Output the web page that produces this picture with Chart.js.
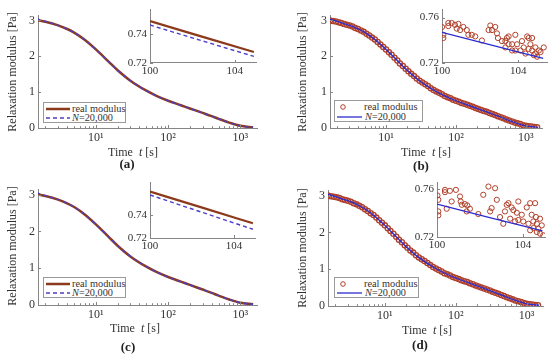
<!DOCTYPE html>
<html><head><meta charset="utf-8">
<script src="https://cdn.jsdelivr.net/npm/chart.js@4.4.1/dist/chart.umd.min.js"></script>
<style>
html,body{margin:0;padding:0;background:#fff;width:550px;height:360px;overflow:hidden;font-family:"Liberation Serif",serif;color:#333}
canvas{position:absolute;left:0;top:0;pointer-events:none}
.t{position:absolute;white-space:nowrap;font-size:12px;color:#333;transform:translate(-50%,-50%);line-height:1}
.yt{transform:translate(-50%,-50%) rotate(-90deg)}
.cap{font-weight:bold;font-size:13px;color:#222}
.leg{position:absolute;background:#fff;border:1px solid #9a9a9a;box-sizing:border-box;font-size:10.3px;color:#333}
.row{position:absolute;left:0;height:10px;line-height:10px;white-space:nowrap}
.row svg{position:absolute;top:0;left:0}
.row span{position:absolute;top:0}
</style>
</head><body>
<canvas id="mA" width="550" height="360"></canvas>
<canvas id="iA" width="550" height="360"></canvas>
<canvas id="mB" width="550" height="360"></canvas>
<canvas id="iB" width="550" height="360"></canvas>
<canvas id="mC" width="550" height="360"></canvas>
<canvas id="iC" width="550" height="360"></canvas>
<canvas id="mD" width="550" height="360"></canvas>
<canvas id="iD" width="550" height="360"></canvas>
<div id="txt"></div>
<script>
// ---------------- data ----------------
const tCurve = [1.5,2,3,4,5,7,10,15,20,30,50,70,100,150,200,300,400,500,700,1000,1500];
const gReal  = [3.01,2.96,2.86,2.76,2.66,2.46,2.19,1.85,1.61,1.32,1.04,0.89,0.76,0.635,0.545,0.42,0.33,0.255,0.15,0.06,0.02];
const gModel = [3.05,2.97,2.86,2.76,2.66,2.46,2.19,1.85,1.61,1.32,1.04,0.89,0.76,0.635,0.545,0.42,0.33,0.255,0.15,0.06,0.02];

const tScatter = [1.58,1.74,1.91,2.09,2.29,2.51,2.75,3.02,3.31,3.63,3.98,4.37,4.79,5.25,5.75,6.31,6.92,7.59,8.32,9.12,
  10.0,11.0,12.0,13.2,14.5,15.8,17.4,19.1,20.9,22.9,25.1,27.5,30.2,33.1,36.3,39.8,43.7,47.9,52.5,57.5,
  63.1,69.2,75.9,83.2,91.2,100,110,120,132,145,158,174,191,209,229,251,275,302,331,363,
  398,437,479,525,575,631,692,759,832,912,1000,1096,1202,1318,1445];
const gScatter = [3.00,2.98,2.97,2.95,2.93,2.90,2.88,2.86,2.83,2.79,2.76,2.72,2.68,2.63,2.58,2.52,2.47,2.40,2.33,2.26,
  2.19,2.11,2.04,1.96,1.88,1.80,1.73,1.65,1.58,1.51,1.45,1.38,1.32,1.27,1.22,1.17,1.11,1.06,1.02,0.98,
  0.94,0.89,0.86,0.83,0.79,0.76,0.73,0.70,0.675,0.65,0.62,0.59,0.56,0.53,0.50,0.475,0.45,0.42,0.39,0.36,
  0.33,0.30,0.27,0.24,0.21,0.18,0.15,0.13,0.11,0.08,0.06,0.05,0.04,0.03,0.02];

const tInsetLine   = [100, 102.45, 104.9];
const gInsRealA    = [0.7490, 0.7383, 0.7276];
const gInsModelA   = [0.7463, 0.7354, 0.7246];
const gInsRealC    = [0.7603, 0.7466, 0.7328];
const gInsModelC   = [0.7574, 0.7425, 0.7276];
const tInsetLineB  = [100, 102.65, 105.3];
const gInsModelB   = [0.7470, 0.7355, 0.7240];
const gInsModelD   = [0.7475, 0.7363, 0.7252];

const tInsB = [100.0,100.07,100.07,100.33,100.51,100.68,100.86,100.95,101.12,101.3,101.38,101.56,101.74,102.09,102.53,102.62,102.79,102.88,102.93,103.14,
  103.32,103.4,103.49,103.67,103.67,103.84,103.93,104.11,104.19,104.28,104.37,104.54,104.63,104.72,104.81,104.89,104.98,105.16,105.33,104.72,
  104.46,103.49,102.44,100.77,100.33,104.54,105.07,103.84,103.32,104.89];
const gInsB = [0.7517,0.7448,0.7420,0.7552,0.7552,0.7536,0.7544,0.7490,0.7517,0.7490,0.7448,0.7448,0.7434,0.7398,0.7530,0.7490,0.7517,0.7461,0.7420,0.7393,
  0.7337,0.7420,0.7434,0.7365,0.7310,0.7448,0.7365,0.7310,0.7393,0.7337,0.7283,0.7420,0.7365,0.7310,0.7269,0.7337,0.7255,0.7296,0.7337,0.7420,
  0.7434,0.7365,0.7490,0.7503,0.7525,0.7324,0.7310,0.7310,0.7393,0.7283];

const tInsD = [100.02,100.06,100.06,100.06,100.37,100.37,100.45,100.6,100.68,100.88,101.07,101.1,101.15,101.3,101.38,101.41,101.53,101.92,102.15,102.39,
  102.47,102.54,102.7,102.78,102.93,103.08,103.16,103.24,103.32,103.4,103.47,103.55,103.63,103.71,103.78,103.78,103.94,104.01,104.17,104.25,
  104.33,104.4,104.48,104.48,104.56,104.6,104.64,104.64,104.71,104.79,104.87,104.94,104.79,104.33];
const gInsD = [0.7547,0.7511,0.7414,0.7381,0.7594,0.7575,0.7436,0.7586,0.7497,0.7594,0.7539,0.7497,0.7469,0.7475,0.7414,0.7464,0.7436,0.7392,0.7553,0.7622,
  0.7414,0.7442,0.7608,0.7511,0.7367,0.7311,0.7414,0.7469,0.7483,0.7353,0.7447,0.7425,0.7331,0.7403,0.7497,0.7342,0.7386,0.7330,0.7447,0.7311,
  0.7483,0.7386,0.7330,0.7275,0.7483,0.7367,0.7311,0.7242,0.7269,0.7353,0.7297,0.7214,0.7228,0.7256];

const xTicksMain = [10, 100, 1000];
const xTickText  = {10:'10\u00B9', 100:'10\u00B2', 1000:'10\u00B3'};
const yTicksMain = [0, 1, 2, 3];
const xTicksInset = [100, 104];
const yTicksInsetAC = [0.72, 0.74];
const yTicksInsetBD = [0.72, 0.76];

// ---------------- styles ----------------
const REAL = '#8d3a1c', MODEL = '#4d3ec6', BLUE = '#2c2cd0', CIRC = '#b0402a';
const AXIS = '#858585', TXT = '#333333';
const FONT = '"Liberation Serif", serif';

const pts = (xs, ys) => xs.map((x, i) => ({x, y: ys[i]}));

const inTicks = {
  id: 'inTicks',
  afterDraw(chart) {
    const o = chart.options.plugins.inTicks;
    if (!o) return;
    const {ctx, chartArea: a, scales: {x, y}} = chart;
    ctx.save(); ctx.strokeStyle = AXIS; ctx.lineWidth = 1; ctx.beginPath();
    x.ticks.forEach(t => { const p = Math.round(x.getPixelForValue(t.value)) + 0.5; ctx.moveTo(p, a.bottom); ctx.lineTo(p, a.bottom - 3); });
    y.ticks.forEach(t => { const p = Math.round(y.getPixelForValue(t.value)) + 0.5; ctx.moveTo(a.left, p); ctx.lineTo(a.left + 3, p); });
    if (o.logMinor) {
      for (let d = 1; d <= 1000; d *= 10) for (let m = 2; m <= 9; m++) {
        const v = m * d; if (v < x.min || v > x.max) continue;
        const p = Math.round(x.getPixelForValue(v)) + 0.5; ctx.moveTo(p, a.bottom); ctx.lineTo(p, a.bottom - 1.8);
      }
    }
    ctx.stroke(); ctx.restore();
  }
};

function makeChart(id, area, xs, ys, datasets) {
  const W = 30, H = 22;
  return new Chart(document.getElementById(id), {
    type: 'scatter',
    data: {datasets},
    plugins: [inTicks],
    options: {
      responsive: false, animation: false, devicePixelRatio: 1, events: [],
      layout: {autoPadding: false, padding: {left: area.l - W, right: 550 - area.r, top: area.t, bottom: 360 - area.b - H}},
      plugins: {legend: {display: false}, tooltip: {enabled: false}, inTicks: {logMinor: xs.type === 'logarithmic'}},
      scales: {
        x: {
          type: xs.type, min: xs.min, max: xs.max,
          grid: {display: false, drawTicks: false},
          border: {display: true, color: AXIS, width: 1},
          afterBuildTicks: s => { s.ticks = xs.ticks.map(v => ({value: v})); },
          afterFit: s => { s.height = H; },
          ticks: {color: TXT, font: {family: FONT, size: xs.size}, padding: xs.pad, maxRotation: 0, autoSkip: false,
                  callback: v => xs.text ? xs.text[v] : String(v)}
        },
        y: {
          type: 'linear', min: ys.min, max: ys.max,
          grid: {display: false, drawTicks: false},
          border: {display: true, color: AXIS, width: 1},
          afterBuildTicks: s => { s.ticks = ys.ticks.map(v => ({value: v})); },
          afterFit: s => { s.width = W; },
          ticks: {color: TXT, font: {family: FONT, size: ys.size}, padding: 3, autoSkip: false,
                  callback: v => ys.dec ? v.toFixed(ys.dec) : String(v)}
        }
      }
    }
  });
}

// dataset index 0 is drawn on top
const lineDS = (data, color, w, dash) => ({data, showLine: true, borderColor: color, borderWidth: w, borderDash: dash || [],
  pointRadius: 0, cubicInterpolationMode: 'monotone', fill: false});
const circDS = (data, r, bw) => ({data, showLine: false, pointRadius: r, pointBorderWidth: bw || 1, pointBorderColor: CIRC,
  pointBackgroundColor: 'rgba(0,0,0,0)', pointStyle: 'circle'});

const xMain = {type: 'logarithmic', min: 1.58, max: 1700, ticks: xTicksMain, text: xTickText, size: 12, pad: 3};
const yMain = {min: 0, max: 3.15, ticks: yTicksMain, size: 12};

// (a)
makeChart('mA', {l: 38, r: 257, t: 15, b: 128}, xMain, yMain,
  [lineDS(pts(tCurve, gModel), MODEL, 1.4, [4, 3]), lineDS(pts(tCurve, gReal), REAL, 2.5)]);
makeChart('iA', {l: 150, r: 256, t: 5, b: 63},
  {type: 'linear', min: 100, max: 105, ticks: xTicksInset, size: 11, pad: 2},
  {min: 0.72, max: 0.757, ticks: yTicksInsetAC, size: 11, dec: 2},
  [lineDS(pts(tInsetLine, gInsModelA), MODEL, 1.4, [4, 3]), lineDS(pts(tInsetLine, gInsRealA), REAL, 2.2)]);
// (b)
makeChart('mB', {l: 330, r: 542, t: 15, b: 128}, xMain, yMain,
  [lineDS(pts(tCurve, gModel), BLUE, 1.3), circDS(pts(tScatter, gScatter), 2.6, 1.3)]);
makeChart('iB', {l: 442, r: 547, t: 7, b: 63},
  {type: 'linear', min: 100, max: 105.5, ticks: xTicksInset, size: 11, pad: 2},
  {min: 0.72, max: 0.767, ticks: yTicksInsetBD, size: 11, dec: 2},
  [lineDS(pts(tInsetLineB, gInsModelB), BLUE, 1.3), circDS(pts(tInsB, gInsB), 2.6)]);
// (c)
makeChart('mC', {l: 38, r: 257, t: 189, b: 305}, xMain, yMain,
  [lineDS(pts(tCurve, gModel), MODEL, 1.4, [4, 3]), lineDS(pts(tCurve, gReal), REAL, 2.5)]);
makeChart('iC', {l: 150, r: 255, t: 182, b: 238},
  {type: 'linear', min: 100, max: 105, ticks: xTicksInset, size: 11, pad: 2},
  {min: 0.72, max: 0.7687, ticks: yTicksInsetAC, size: 11, dec: 2},
  [lineDS(pts(tInsetLine, gInsModelC), MODEL, 1.4, [4, 3]), lineDS(pts(tInsetLine, gInsRealC), REAL, 2.2)]);
// (d)
makeChart('mD', {l: 328, r: 543, t: 190, b: 306}, xMain, yMain,
  [lineDS(pts(tCurve, gModel), BLUE, 1.3), circDS(pts(tScatter, gScatter), 2.6, 1.3)]);
makeChart('iD', {l: 437, r: 545, t: 182, b: 237},
  {type: 'linear', min: 100, max: 105.02, ticks: xTicksInset, size: 11, pad: 2},
  {min: 0.72, max: 0.766, ticks: yTicksInsetBD, size: 11, dec: 2},
  [lineDS(pts(tInsetLine, gInsModelD), BLUE, 1.3), circDS(pts(tInsD, gInsD), 2.6)]);

// ---------------- text overlays ----------------
const txt = document.getElementById('txt');
function addText(html, x, y, cls) {
  const d = document.createElement('div'); d.className = 't ' + (cls || ''); d.innerHTML = html;
  d.style.left = x + 'px'; d.style.top = y + 'px'; txt.appendChild(d);
}
const yTitle = 'Relaxation modulus [Pa]';
const xTitle = 'Time&nbsp; <i>t</i> [s]';
[[12, 72], [302, 72], [12, 246], [302, 248]].forEach(p => addText(yTitle, p[0], p[1], 'yt'));
[[133, 152], [426, 152], [135, 328], [427, 330]].forEach(p => addText(xTitle, p[0], p[1]));
[['(a)', 127, 163], ['(b)', 421, 165], ['(c)', 128, 346], ['(d)', 420, 344]].forEach(p => addText(p[0], p[1], p[2], 'cap'));

function legend(x, y, w, h, kind) {
  const L = document.createElement('div'); L.className = 'leg';
  Object.assign(L.style, {left: x + 'px', top: y + 'px', width: w + 'px', height: h + 'px'});
  const r1 = document.createElement('div'); r1.className = 'row'; r1.style.top = '1px'; r1.style.width = w + 'px';
  const r2 = document.createElement('div'); r2.className = 'row'; r2.style.top = (h / 2 - 0.5) + 'px'; r2.style.width = w + 'px';
  if (kind === 'line') {
    r1.innerHTML = '<svg width="30" height="10"><line x1="2" y1="5" x2="26" y2="5" stroke="' + REAL + '" stroke-width="2.5"/></svg><span style="left:28px">real modulus</span>';
    r2.innerHTML = '<svg width="30" height="10"><line x1="2" y1="5" x2="26" y2="5" stroke="' + MODEL + '" stroke-width="1.4" stroke-dasharray="4 3"/></svg><span style="left:28px"><i>N</i>=20,000</span>';
  } else {
    r1.innerHTML = '<svg width="30" height="10"><circle cx="8" cy="5" r="2.3" fill="none" stroke="' + CIRC + '" stroke-width="1"/></svg><span style="left:29px">real modulus</span>';
    r2.innerHTML = '<svg width="30" height="10"><line x1="2" y1="5" x2="27" y2="5" stroke="' + BLUE + '" stroke-width="1.3"/></svg><span style="left:30px"><i>N</i>=20,000</span>';
  }
  L.appendChild(r1); L.appendChild(r2); txt.appendChild(L);
}
legend(43, 102, 83, 21, 'line');
legend(334, 100, 89, 22, 'circ');
legend(43, 277, 83, 21, 'line');
legend(334, 277, 85, 21, 'circ');
</script>
</body></html>
